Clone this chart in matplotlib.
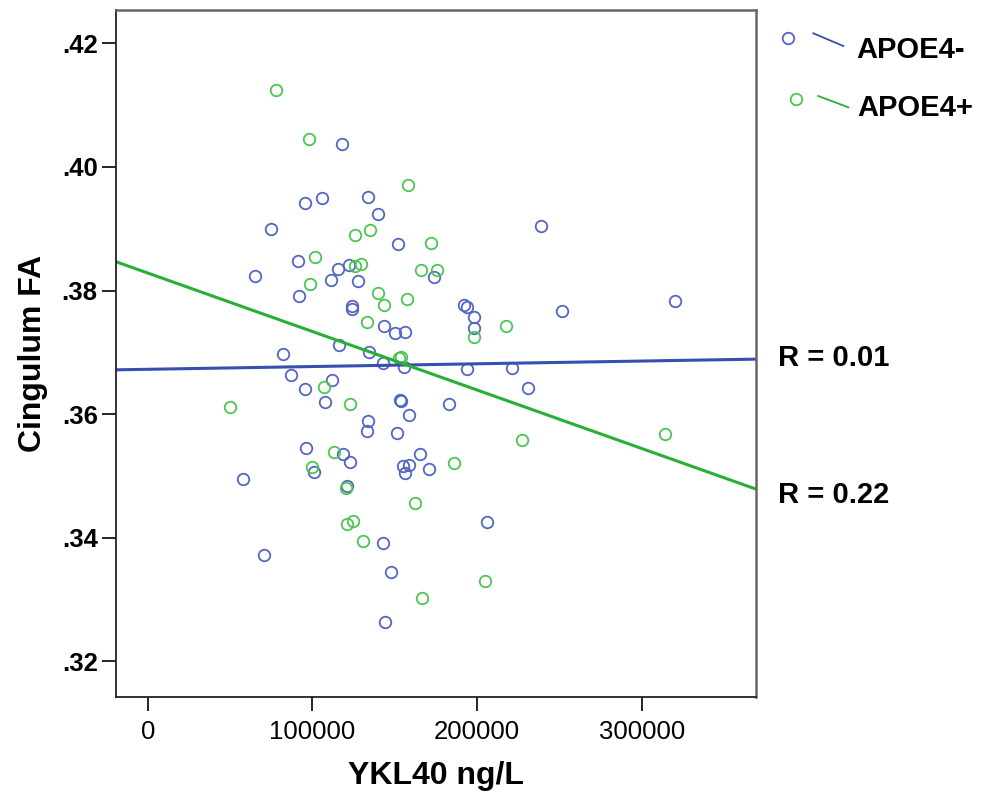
import numpy as np
import matplotlib.pyplot as plt
from matplotlib.lines import Line2D

plt.rcParams['font.family'] = ['Liberation Sans', 'DejaVu Sans']

# APOE4- (blue)
neg_x = [117790, 106010, 95507, 75046, 91257, 65452, 115361, 121919, 111293, 127869,
         91864, 124044, 124347, 116151, 81846, 133940, 139648, 151973, 174135, 192228,
         194050, 198421, 198118, 143655, 150152, 156223, 134183, 239101, 251548, 320158,
         87310, 111718, 95628, 107347, 96114, 118397, 122829, 101154, 57863, 120826,
         70492, 142684, 155738, 194050, 221008, 230723, 153309, 153795, 183242, 158470,
         134062, 133273, 151670, 165331, 154827, 158349, 156223, 170795, 206193, 142866,
         147845, 143777]
neg_y = [.40367, .39504, .39413, .38998, .3848, .38238, .38343, .38407, .38173, .38152,
         .37914, .37745, .37696, .37122, .36977, .3952, .39235, .38755, .38222, .37769,
         .37733, .3758, .37402, .37421, .37311, .37337, .37009, .39049, .37677, .37829,
         .36629, .36556, .36411, .36205, .35457, .3536, .3523, .35064, .34956, .34831,
         .33727, .36836, .36758, .36731, .36755, .36422, .36233, .36209, .36168, .3599,
         .35885, .35728, .35699, .3536, .35155, .35171, .35048, .35117, .34264, .33913,
         .33447, .32635]

# APOE4+ (green)
pos_x = [77717, 97814, 125865, 101882, 125865, 129205, 98664, 158166, 135276, 171828,
         165938, 175653, 139830, 143473, 157620, 198421, 133273, 152884, 154098, 217547,
         107043, 122526, 49787, 113418, 99636, 120219, 121129, 124651, 130905, 185974,
         161992, 204797, 166727, 227565, 314086]
pos_y = [.4124, .40461, .38896, .3854, .38395, .38429, .38113, .39706, .38981, .38771,
         .38331, .38331, .37968, .37766, .37858, .37247, .37499, .36907, .36928, .37434,
         .36435, .36168, .36115, .35389, .3515, .34807, .34225, .34265, .33953, .3521,
         .34571, .33302, .33019, .35589, .35688]

# fit lines (intercept, slope)
neg_fit = (0.36727, 4.45e-9)
pos_fit = (0.38285, -9.466e-8)

groups = ['APOE4-', 'APOE4+']
r_labels = ['R = 0.01', 'R = 0.22']

blue_pt = '#5366c2'
blue_ln = '#3550b0'
green_pt = '#4cc552'
green_ln = '#2aaf35'

W, H = 990, 792


def fx(px):
    return px / W


def fy(py):
    return 1 - py / H


fig = plt.figure(figsize=(9.9, 7.92), dpi=100)
ax = fig.add_axes([fx(115.7), fy(696.7), fx(756) - fx(115.7), fy(10) - fy(696.7)])

xlim = (-19430, 369340)
ax.set_xlim(xlim)
ax.set_ylim(0.3143, 0.4254)

ax.plot(neg_x, neg_y, 'o', ms=8.3, mfc='none', mec=blue_pt, mew=1.3)
ax.plot(pos_x, pos_y, 'o', ms=8.3, mfc='none', mec=green_pt, mew=1.3)

xs = np.array(xlim)
ax.plot(xs, neg_fit[0] + neg_fit[1] * xs, color=blue_ln, lw=2.2)
ax.plot(xs, pos_fit[0] + pos_fit[1] * xs, color=green_ln, lw=2.2)

xt = [0, 100000, 200000, 300000]
ax.set_xticks(xt)
ax.set_xticklabels([str(v) for v in xt], fontsize=18.5)
yt = [.32, .34, .36, .38, .40, .42]
ax.set_yticks(yt)
ax.set_yticklabels([('%.2f' % v)[1:] for v in yt], fontsize=18.5, fontweight='bold')
ax.tick_params(direction='out', length=10, width=1.2)
ax.tick_params(axis='x', pad=7)
ax.tick_params(axis='y', pad=3)

for s in ['left', 'bottom']:
    ax.spines[s].set_color('#222222')
    ax.spines[s].set_linewidth(1.3)
for s in ['top', 'right']:
    ax.spines[s].set_color('#666666')
    ax.spines[s].set_linewidth(1.8)

ax.set_xlabel('YKL40 ng/L', fontsize=23, fontweight='bold', labelpad=12)
ax.set_ylabel('Cingulum FA', fontsize=23, fontweight='bold', labelpad=10)

# legend
fig.add_artist(Line2D([fx(788.3)], [fy(37.7)], marker='o', ms=8.3, mfc='none',
                      mec=blue_pt, mew=1.3))
fig.add_artist(Line2D([fx(813.3), fx(843.3)], [fy(33.3), fy(46)], color=blue_ln, lw=1.3))
fig.text(fx(856.7), fy(49.5), groups[0], fontsize=21, fontweight='bold', va='center')

fig.add_artist(Line2D([fx(795.7)], [fy(99)], marker='o', ms=8.3, mfc='none',
                      mec=green_pt, mew=1.3))
fig.add_artist(Line2D([fx(818.3), fx(848.3)], [fy(96), fy(107.3)], color=green_ln, lw=1.3))
fig.text(fx(857.7), fy(108.5), groups[1], fontsize=21, fontweight='bold', va='center')

# R values
fig.text(fx(778), fy(358), r_labels[0], fontsize=21, fontweight='bold', va='center')
fig.text(fx(778), fy(495), r_labels[1], fontsize=21, fontweight='bold', va='center')

fig.savefig('out.png', dpi=100)
